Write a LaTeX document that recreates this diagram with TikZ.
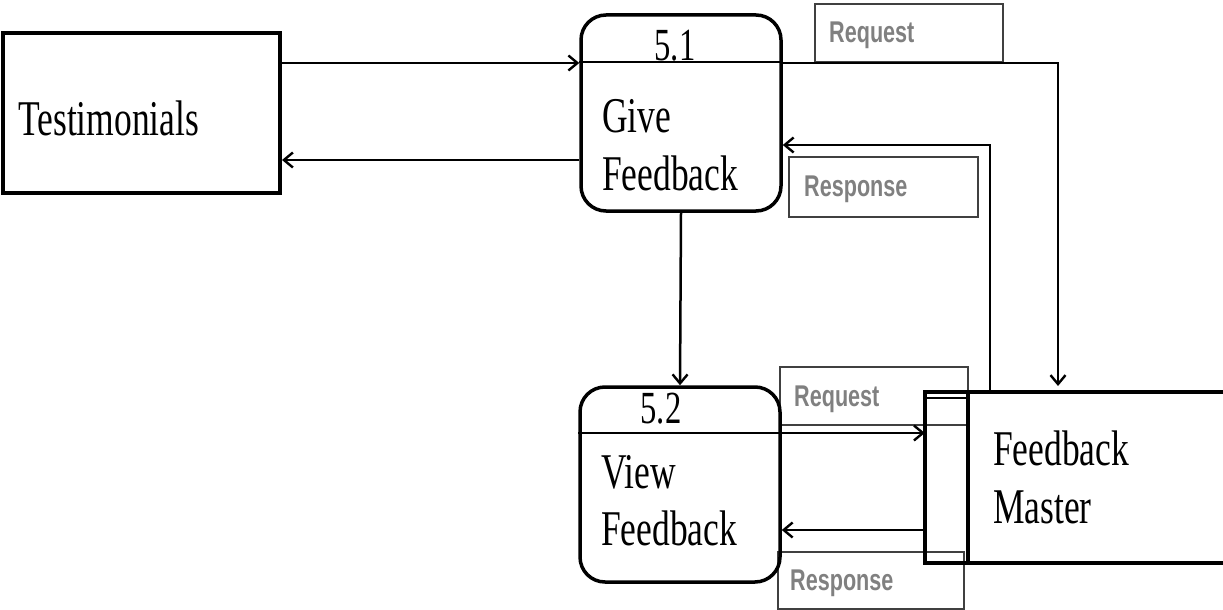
\documentclass[tikz,border=0pt]{standalone}
\usepackage{fontspec}
\usepackage{graphicx}
\setmainfont{Liberation Serif}
\newfontfamily\lblfont{Liberation Sans}
\usetikzlibrary{arrows.meta}
\definecolor{lblgray}{RGB}{128,128,128}
\newcommand{\sx}[1]{\scalebox{0.71}[1]{#1}}
\newcommand{\lx}[1]{\scalebox{0.72}[1]{#1}}
\tikzset{
  entity/.style={draw, line width=4pt, inner sep=0pt},
  process/.style={draw, line width=3.5pt, rounded corners=25pt, inner sep=0pt},
  ghost/.style={draw=none, inner sep=0pt},
  bigtxt/.style={inner sep=0pt, anchor=base west, font=\fontsize{50}{56}\selectfont},
  numtxt/.style={inner sep=0pt, anchor=base, font=\fontsize{46}{52}\selectfont},
  lbltxt/.style={inner sep=0pt, anchor=west, text=lblgray, font=\lblfont\bfseries\fontsize{30}{33}\selectfont},
  lblbox/.style={draw=black!75, line width=1.3pt, inner sep=0pt},
  flow/.style={line width=2.5pt, -{Straight Barb[length=9pt,width=15pt,line width=2.4pt]}},
  divider/.style={line width=2.4pt},
  storeline/.style={line width=4.5pt},
}
\begin{document}
\begin{tikzpicture}[x=1pt,y=-1pt]
\useasboundingbox (0,0) rectangle (1223,610);

% label boxes (drawn first, under the flows)
\node[lblbox, minimum width=188pt, minimum height=58pt] (lb1) at (909,33) {};
\node[lblbox, minimum width=189pt, minimum height=60pt] (lb2) at (883.5,187) {};
\node[lblbox, minimum width=188pt, minimum height=58pt] (lb3) at (874,396) {};
\node[lblbox, minimum width=186pt, minimum height=57pt] (lb4) at (871,580.5) {};
\node[lbltxt] (t1) at (829,35) {\lx{Request}};
\node[lbltxt] (t2) at (804,189) {\lx{Response}};
\node[lbltxt] (t3) at (794,399) {\lx{Request}};
\node[lbltxt] (t4) at (790,583) {\lx{Response}};

% entity
\node[entity, minimum width=277pt, minimum height=160pt] (ent) at (141.5,113) {};
\node[bigtxt] (entt) at (18,135) {\sx{Testimonials}};

% processes
\node[process, minimum width=200pt, minimum height=196pt] (p1) at (681,113) {};
\node[process, minimum width=200pt, minimum height=195pt] (p2) at (680,484.5) {};
\draw[divider] (p1.west |- 0,62) -- (p1.east |- 0,62);
\draw[divider] (p2.west |- 0,433) -- (p2.east |- 0,433);
\node[numtxt] (n1) at (675,61) {\sx{5.1}};
\node[numtxt] (n2) at (661,423) {\sx{5.2}};
\node[bigtxt] (p1a) at (602,132) {\sx{Give}};
\node[bigtxt] (p1b) at (602,190) {\sx{Feedback}};
\node[bigtxt] (p2a) at (601,488) {\sx{View}};
\node[bigtxt] (p2b) at (601,545) {\sx{Feedback}};

% data store
\node[ghost, minimum width=298pt, minimum height=171pt] (store) at (1074,477.5) {};
\draw[storeline] (store.north east) -- (store.north west) -- (store.south west) -- (store.south east);
\coordinate (sdivT) at (968,392);
\coordinate (sdivB) at (968,563);
\draw[storeline] (sdivT) -- (sdivB);
\draw[line width=1.3pt] (store.north west |- 0,398) -- (sdivT |- 0,398);
\node[bigtxt] (st1) at (993,465) {\sx{Feedback}};
\node[bigtxt] (st2) at (993,523) {\sx{Master}};

% flows
\coordinate (c1) at (1058,63);
\coordinate (c1e) at (1058,386);
\coordinate (c2s) at (990,392);
\coordinate (c2) at (990,145);
\draw[flow] (ent.east |- 0,63) -- (p1.west |- 0,63);
\draw[flow] (p1.west |- 0,160) -- (ent.east |- 0,160);
\draw[flow] (p1.east |- 0,63) -- (c1) -- (c1e);
\draw[flow] (c2s) -- (c2) -- (p1.east |- 0,145);
\draw[flow] (p1.south) -- (p2.north);
\draw[flow] (p2.east |- 0,433) -- (store.west |- 0,433);
\draw[flow] (store.west |- 0,530) -- (p2.east |- 0,530);
\end{tikzpicture}
\end{document}
